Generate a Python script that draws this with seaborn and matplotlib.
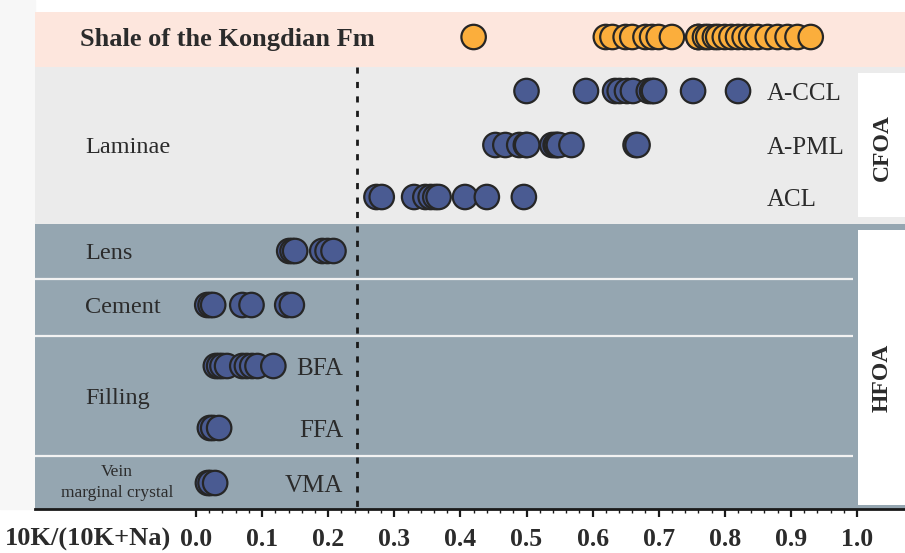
import numpy as np
import pandas as pd
import matplotlib
matplotlib.use("Agg")
import matplotlib.pyplot as plt
from matplotlib.patches import Rectangle
from matplotlib.ticker import FixedLocator
import seaborn as sns

# 10K/(10K+Na) ratios by sample type
shale = [0.42, 0.62, 0.63, 0.65, 0.66, 0.68, 0.69, 0.70, 0.72, 0.76, 0.76, 0.77,
         0.775, 0.785, 0.79, 0.80, 0.81, 0.82, 0.83, 0.84, 0.85, 0.865, 0.88,
         0.895, 0.91, 0.93]
a_ccl = [0.50, 0.59, 0.634, 0.641, 0.652, 0.661, 0.685, 0.69, 0.693, 0.752, 0.82]
a_pml = [0.453, 0.468, 0.489, 0.499, 0.501, 0.539, 0.544, 0.546, 0.549, 0.568,
         0.665, 0.668]
acl = [0.273, 0.281, 0.33, 0.347, 0.355, 0.362, 0.367, 0.407, 0.44, 0.496]
lens = [0.141, 0.146, 0.15, 0.191, 0.199, 0.208]
cement = [0.017, 0.022, 0.026, 0.07, 0.084, 0.138, 0.145]
bfa = [0.03, 0.035, 0.04, 0.047, 0.07, 0.077, 0.085, 0.093, 0.117]
ffa = [0.021, 0.026, 0.035]
vma = [0.018, 0.022, 0.029]

row_names = ["Shale", "A-CCL", "A-PML", "ACL", "Lens", "Cement", "BFA", "FFA", "VMA"]
row_values = [shale, a_ccl, a_pml, acl, lens, cement, bfa, ffa, vma]
tick_values = [round(0.1 * i, 1) for i in range(11)]
tick_labels = [f"{v:.1f}" for v in tick_values]

# vertical layout (row centres, top-down)
row_y = dict(zip(row_names, [37, 91, 145, 197, 251, 305, 366, 428, 483]))

records = []
for name, vals in zip(row_names, row_values):
    for v in sorted(vals):
        records.append({"ratio": v, "row": name, "y": row_y[name],
                        "kind": "shale" if name == "Shale" else "sample"})
df = pd.DataFrame(records)

sns.set_theme(style="white")
plt.rcParams["font.family"] = ["Liberation Serif", "DejaVu Serif"]
TXT = "#2b2b2b"

W, H = 905, 553
fig = plt.figure(figsize=(W / 100, H / 100), dpi=100, facecolor="white")
ax_top, ax_bot, ax_left = 12, 509, 35
ax = fig.add_axes([ax_left / W, 1 - ax_bot / H, 1 - ax_left / W, (ax_bot - ax_top) / H])

x0px, scale = 196.0, 661.0
def xd(px):
    return (px - x0px) / scale

ax.set_xlim(xd(ax_left), xd(W))
ax.set_ylim(ax_bot, ax_top)

# light strip left of the panel
fig.patches.append(Rectangle((0, 1 - ax_bot / H), ax_left / W, (ax_bot - 0) / H,
                             transform=fig.transFigure, color="#f7f7f7", zorder=-5))

# background bands
ax.axhspan(ax_top, 67, color="#fde6dd", lw=0, zorder=0)
ax.axhspan(67, 224, color="#ebebeb", lw=0, zorder=0)
ax.axhspan(224, ax_bot, color="#95a6b1", lw=0, zorder=0)
for yl in [279, 336, 456]:
    ax.hlines(yl, xd(ax_left), xd(853), color="#f2f2f2", lw=1.6, zorder=1)

# side boxes
for (yt, yb) in [(73, 217), (230, 505)]:
    ax.add_patch(Rectangle((xd(858), yt), xd(W) - xd(858), yb - yt,
                           facecolor="white", edgecolor="none", zorder=1))
ax.text(xd(882), 148, "CFOA", rotation=90, ha="center", va="center",
        fontsize=17, fontweight="bold", color=TXT)
ax.text(xd(882), 378, "HFOA", rotation=90, ha="center", va="center",
        fontsize=17, fontweight="bold", color=TXT)

# threshold line
ax.vlines(0.243, 67, ax_bot, colors="#1a1a1a", lw=2.0,
          linestyles=(0, (2.2, 3.0)), zorder=2)

sns.scatterplot(data=df, x="ratio", y="y", hue="kind",
                palette={"shale": "#fbae3c", "sample": "#4a5b92"},
                s=310, edgecolor="#262626", linewidth=1.6, legend=False,
                ax=ax, zorder=3)

# row labels
dy = 3
kw = dict(color=TXT, va="center")
ax.text(xd(80), 37 + dy, "Shale of the Kongdian Fm", fontsize=19, fontweight="bold", **kw)
ax.text(xd(85), 145 + dy, "Laminae", fontsize=17.5, **kw)
ax.text(xd(85), 251 + dy, "Lens", fontsize=17.5, **kw)
ax.text(xd(85), 305 + dy, "Cement", fontsize=17.5, **kw)
ax.text(xd(85), 396 + dy, "Filling", fontsize=17.5, **kw)
ax.text(xd(117), 471 + 1, "Vein", fontsize=12.5, ha="center", **kw)
ax.text(xd(117), 492 + 1, "marginal crystal", fontsize=12.5, ha="center", **kw)
for name in ["A-CCL", "A-PML", "ACL"]:
    ax.text(xd(767), row_y[name] + dy, name, fontsize=18, ha="left", **kw)
for name in ["BFA", "FFA", "VMA"]:
    ax.text(xd(343), row_y[name] + dy, name, fontsize=18, ha="right", **kw)

# axes styling
ax.set_xlabel("")
ax.set_ylabel("")
ax.set_yticks([])
for side in ["left", "top", "right"]:
    ax.spines[side].set_visible(False)
ax.spines["bottom"].set_color("#1a1a1a")
ax.spines["bottom"].set_linewidth(2.0)
ax.set_xticks(tick_values)
ax.set_xticklabels(tick_labels, fontsize=18.5, fontweight="bold", color=TXT)
ax.xaxis.set_minor_locator(FixedLocator(np.round(np.arange(0, 1.001, 0.02), 2)))
ax.tick_params(axis="x", which="major", direction="out", length=6, width=1.6,
               color="#1a1a1a", pad=8, bottom=True)
ax.tick_params(axis="x", which="minor", direction="out", length=3, width=1.0,
               color="#1a1a1a", bottom=True)
fig.text(5 / W, 1 - 539 / H, "10K/(10K+Na)", fontsize=19, fontweight="bold",
         color=TXT, ha="left", va="center")

fig.savefig("out.png", dpi=100, facecolor="white")
